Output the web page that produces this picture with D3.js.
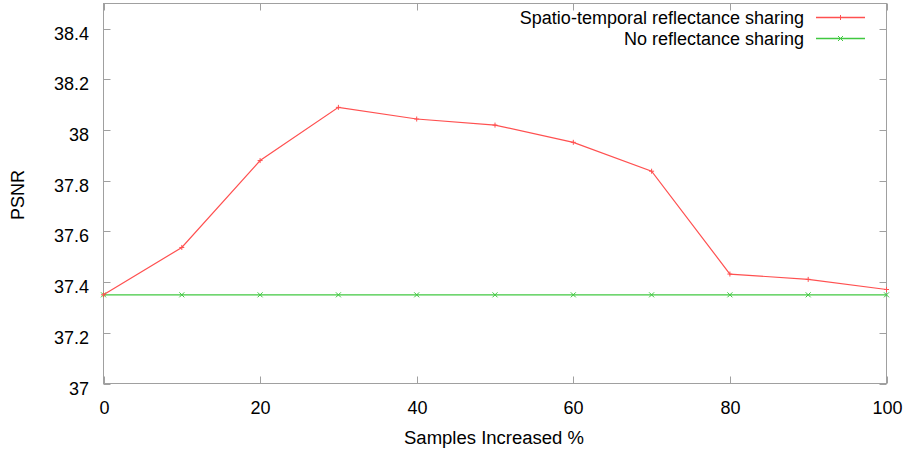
<!DOCTYPE html>
<html><head><meta charset="utf-8">
<script src="https://cdn.jsdelivr.net/npm/d3@7"></script>
<style>body{margin:0;background:#fff}svg{display:block}text{font-family:"Liberation Sans",Arial,sans-serif;fill:#000}</style>
</head><body>
<svg id="c" width="905" height="449"></svg>
<script>
const xValues = [0,10,20,30,40,50,60,70,80,90,100];
const sharing = [37.35,37.537,37.88,38.09,38.044,38.02,37.952,37.838,37.432,37.411,37.371];
const noSharing = [37.35,37.35,37.35,37.35,37.35,37.35,37.35,37.35,37.35,37.35,37.35];
const xTicks = [0,20,40,60,80,100];
const yTicks = [37,37.2,37.4,37.6,37.8,38,38.2,38.4];
const seriesNames = ["Spatio-temporal reflectance sharing","No reflectance sharing"];

const svg = d3.select("#c");
const L=103.5, R=886.5, T=3.5, B=383.5;
const x = d3.scaleLinear().domain([0,100]).range([L,R]);
const y = d3.scaleLinear().domain([37,38.5]).range([B,T]);
const grey="#a0a0a0";
const fs=18;

svg.append("rect").attr("x",L).attr("y",T).attr("width",R-L).attr("height",B-T)
  .attr("fill","none").attr("stroke",grey).attr("stroke-width",1);

yTicks.forEach(v=>{
  const yy=Math.round(y(v))+0.5;
  svg.append("line").attr("x1",L).attr("x2",L+7).attr("y1",yy).attr("y2",yy).attr("stroke",grey);
  svg.append("line").attr("x1",R).attr("x2",R-7).attr("y1",yy).attr("y2",yy).attr("stroke",grey);
  svg.append("text").attr("x",89).attr("y",yy+10).attr("text-anchor","end")
    .attr("font-size",fs).text(+v.toFixed(1));
});
xTicks.forEach(v=>{
  const xx=Math.round(x(v))+0.5;
  svg.append("line").attr("x1",xx).attr("x2",xx).attr("y1",B).attr("y2",B-7).attr("stroke",grey);
  svg.append("line").attr("x1",xx).attr("x2",xx).attr("y1",T).attr("y2",T+7).attr("stroke",grey);
  svg.append("text").attr("x",xx).attr("y",414).attr("text-anchor","middle")
    .attr("font-size",fs).text(v);
});

svg.append("text").attr("x",494).attr("y",444).attr("text-anchor","middle").attr("font-size",18)
  .attr("textLength",180).attr("lengthAdjust","spacingAndGlyphs").text("Samples Increased %");
svg.append("text").attr("transform","translate(24,195) rotate(-90)").attr("text-anchor","middle").attr("font-size",18).text("PSNR");

const line = d3.line().x((d,i)=>x(xValues[i])).y(d=>y(d));
const red="#ff5050", green="#40c840";

svg.append("path").datum(noSharing).attr("d",line).attr("fill","none").attr("stroke",green).attr("stroke-width",1.3);
noSharing.forEach((v,i)=>{
  const cx=x(xValues[i]), cy=y(v);
  svg.append("path").attr("d",`M${cx-2.5},${cy-2.5}L${cx+2.5},${cy+2.5}M${cx-2.5},${cy+2.5}L${cx+2.5},${cy-2.5}`).attr("stroke",green).attr("stroke-width",1);
});
svg.append("path").datum(sharing).attr("d",line).attr("fill","none").attr("stroke",red).attr("stroke-width",1.2);
sharing.forEach((v,i)=>{
  const cx=x(xValues[i]), cy=y(v);
  svg.append("path").attr("d",`M${cx-2.5},${cy}L${cx+2.5},${cy}M${cx},${cy-2.5}L${cx},${cy+2.5}`).attr("stroke",red).attr("stroke-width",1);
});

const legY=[17.5,38.5];
[[red,"+"],[green,"x"]].forEach(([c,m],i)=>{
  const ly=legY[i];
  svg.append("text").attr("x",804).attr("y",ly+6.5).attr("text-anchor","end").attr("font-size",fs).text(seriesNames[i]);
  svg.append("line").attr("x1",816).attr("x2",865).attr("y1",ly).attr("y2",ly).attr("stroke",c).attr("stroke-width",1.3);
  const cx=840.5;
  if(m==="+") svg.append("path").attr("d",`M${cx-2.5},${ly}L${cx+2.5},${ly}M${cx},${ly-2.5}L${cx},${ly+2.5}`).attr("stroke",c);
  else svg.append("path").attr("d",`M${cx-2.5},${ly-2.5}L${cx+2.5},${ly+2.5}M${cx-2.5},${ly+2.5}L${cx+2.5},${ly-2.5}`).attr("stroke",c);
});
</script>
</body></html>
